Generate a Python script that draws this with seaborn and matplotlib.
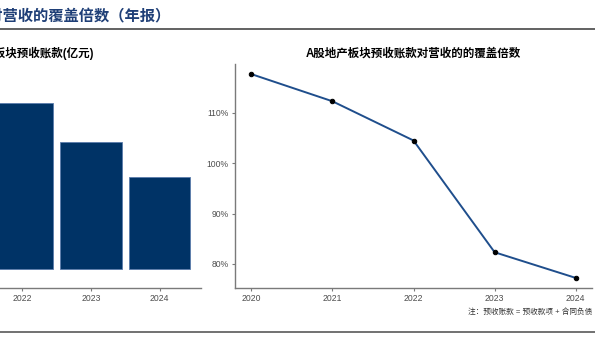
import matplotlib
matplotlib.use("Agg")
import matplotlib.pyplot as plt
from matplotlib.lines import Line2D
from matplotlib.ticker import FuncFormatter
import seaborn as sns
import pandas as pd

# 年份
years = ["2020", "2021", "2022", "2023", "2024"]
# A股地产板块预收账款（亿元）
advance_receipts = [39000, 41000, 36000, 27500, 20000]
# 预收账款对营收的覆盖倍数（%）
coverage_ratio = [117.7, 112.3, 104.5, 82.3, 77.2]
ratio_ticks = [80, 90, 100, 110]

main_title = "A股地产板块预收账款对营收的覆盖倍数（年报）"
left_title = "A股地产板块预收账款(亿元)"
right_title = "A股地产板块预收账款对营收的的覆盖倍数"
note_text = "注：预收账款 = 预收款项 + 合同负债"

sns.set_theme(style="white")
plt.rcParams["font.family"] = ["Liberation Sans", "Noto Sans CJK SC", "DejaVu Sans"]

W, H = 595, 349
fig = plt.figure(figsize=(W / 100, H / 100), dpi=100)


def fx(px):
    return px / W


def fy(py):
    return 1 - py / H


axis_grey = "#7a7a7a"
tick_grey = "#4d4d4d"
bar_color = "#003366"
line_color = "#1f4e8c"

# 左侧：预收账款柱状图
ax1 = fig.add_axes([fx(-156.75), fy(288), fx(357.5), (288 - 64) / H])
bar_df = pd.DataFrame({"year": years, "value": advance_receipts})
sns.barplot(data=bar_df, x="year", y="value", ax=ax1, color=bar_color,
            width=0.9, edgecolor="#5a7cab", linewidth=0.6, saturation=1)
ax1.set_xlim(-0.6, 4.6)
ax1.set_ylim(-4120, 44460)
ax1.set_xlabel("")
ax1.set_ylabel("")
ax1.set_yticks([])
for s in ["top", "right", "left"]:
    ax1.spines[s].set_visible(False)
ax1.spines["bottom"].set_color(axis_grey)
ax1.spines["bottom"].set_linewidth(1.0)
ax1.tick_params(axis="x", bottom=True, length=2.5, width=0.8, color=axis_grey,
                labelsize=6.2, labelcolor=tick_grey, pad=2)

# 右侧：覆盖倍数折线图
ax2 = fig.add_axes([fx(235), fy(288), fx(357), (288 - 64) / H])
line_df = pd.DataFrame({"year": [int(y) for y in years], "ratio": coverage_ratio})
sns.lineplot(data=line_df, x="year", y="ratio", ax=ax2, color=line_color,
             linewidth=1.4, marker="o", markersize=3.2,
             markerfacecolor="black", markeredgecolor="black")
ax2.set_xlim(2019.8, 2024.2)
ax2.set_ylim(75.2, 119.7)
ax2.set_xticks([int(y) for y in years])
ax2.set_xticklabels(years)
ax2.set_yticks(ratio_ticks)
ax2.yaxis.set_major_formatter(FuncFormatter(lambda v, _: f"{v:.0f}%"))
ax2.set_xlabel("")
ax2.set_ylabel("")
for s in ["top", "right"]:
    ax2.spines[s].set_visible(False)
for s in ["left", "bottom"]:
    ax2.spines[s].set_color(axis_grey)
    ax2.spines[s].set_linewidth(1.0)
ax2.tick_params(axis="both", bottom=True, left=True, length=2.5, width=0.8,
                color=axis_grey, labelsize=6.2, labelcolor=tick_grey, pad=2)

# 标题与注释
fig.text(fx(171), fy(17), main_title, ha="right", va="center",
         fontsize=11, fontweight="bold", color="#1f3f77")
fig.text(fx(94), fy(53), left_title, ha="right", va="center",
         fontsize=8.3, fontweight="bold", color="black")
fig.text(fx(413.5), fy(54), right_title, ha="center", va="center",
         fontsize=8.3, fontweight="bold", color="black")
fig.text(fx(592), fy(312), note_text, ha="right", va="center",
         fontsize=5.5, color="#333333")

fig.add_artist(Line2D([0, 1], [fy(29), fy(29)], transform=fig.transFigure,
                      color="#555555", linewidth=1.3))
fig.add_artist(Line2D([0, 1], [fy(331.5), fy(331.5)], transform=fig.transFigure,
                      color="#666666", linewidth=1.3))

fig.savefig("out.png", dpi=100)
